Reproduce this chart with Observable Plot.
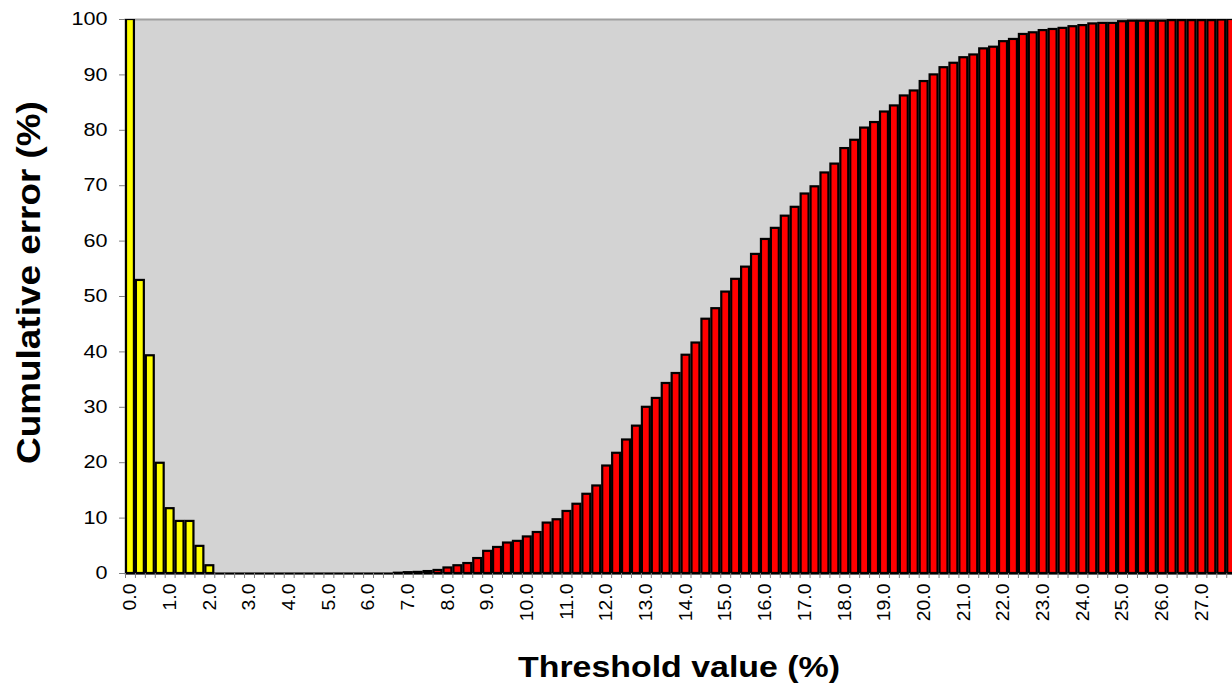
<!DOCTYPE html>
<html><head><meta charset="utf-8">
<script src="https://cdn.jsdelivr.net/npm/d3@7"></script>
<script src="https://cdn.jsdelivr.net/npm/@observablehq/plot@0.6"></script>
<style>
html,body{margin:0;padding:0;background:#fff;}
#chart{width:1232px;height:688px;overflow:hidden;}
</style></head><body><div id="chart"></div>
<script>
// Threshold categories (%) and cumulative error (%) per series
const yellowThresholds = [0, 0.25, 0.5, 0.75, 1.0, 1.25, 1.5, 1.75, 2.0];
const yellowErrors = [100, 52.9, 39.3, 19.9, 11.7, 9.4, 9.4, 4.9, 1.4];

const redThresholds = [
  2.25, 2.5, 2.75, 3.0, 3.25, 3.5, 3.75, 4.0, 4.25, 4.5, 4.75, 5.0, 5.25, 5.5, 5.75, 6.0, 6.25, 6.5, 6.75,
  7.0, 7.25, 7.5, 7.75, 8.0, 8.25, 8.5, 8.75, 9.0, 9.25, 9.5, 9.75, 10.0, 10.25, 10.5, 10.75,
  11.0, 11.25, 11.5, 11.75, 12.0, 12.25, 12.5, 12.75, 13.0, 13.25, 13.5, 13.75, 14.0, 14.25, 14.5, 14.75,
  15.0, 15.25, 15.5, 15.75, 16.0, 16.25, 16.5, 16.75, 17.0, 17.25, 17.5, 17.75, 18.0, 18.25, 18.5, 18.75,
  19.0, 19.25, 19.5, 19.75, 20.0, 20.25, 20.5, 20.75, 21.0, 21.25, 21.5, 21.75, 22.0, 22.25, 22.5, 22.75,
  23.0, 23.25, 23.5, 23.75, 24.0, 24.25, 24.5, 24.75, 25.0, 25.25, 25.5, 25.75, 26.0, 26.25, 26.5, 26.75,
  27.0, 27.25, 27.5, 27.75
];
const redErrors = [
  0, 0, 0, 0, 0, 0, 0, 0, 0, 0, 0, 0, 0, 0, 0, 0, 0, 0, 0.05,
  0.15, 0.2, 0.35, 0.55, 1.0, 1.4, 1.8, 2.7, 4.0, 4.7, 5.5, 5.8, 6.6, 7.4, 9.1, 9.7,
  11.2, 12.5, 14.3, 15.8, 19.4, 21.7, 24.1, 26.6, 30.0, 31.6, 34.3, 36.1, 39.4, 41.6, 45.9, 47.8,
  50.8, 53.1, 55.3, 57.6, 60.3, 62.3, 64.5, 66.1, 68.5, 69.8, 72.3, 73.9, 76.7, 78.2, 80.4, 81.4,
  83.3, 84.4, 86.2, 87.1, 88.8, 90.0, 91.3, 92.1, 93.1, 93.6, 94.7, 95.0, 96.0, 96.4, 97.3, 97.6,
  98.0, 98.2, 98.4, 98.7, 98.9, 99.2, 99.3, 99.3, 99.6, 99.7, 99.7, 99.7, 99.7, 99.8, 99.8, 99.8,
  99.8, 99.8, 99.9, 100
];

const yTicks = [0, 10, 20, 30, 40, 50, 60, 70, 80, 90, 100];
const xTickLabels = [0, 1, 2, 3, 4, 5, 6, 7, 8, 9, 10, 11, 12, 13, 14, 15, 16, 17, 18, 19, 20, 21, 22, 23, 24, 25, 26, 27];

const xTitle = "Threshold value (%)";
const yTitle = "Cumulative error (%)";

// tables built from the arrays
const step = 0.25;
const yellowData = yellowThresholds.map((t, i) => ({t, v: yellowErrors[i]}));
const redData = redThresholds.map((t, i) => ({t, v: redErrors[i]}));
const allThresholds = yellowThresholds.concat(redThresholds);
const boundaries = allThresholds.map(t => t - step / 2);

const barOpts = (fill) => ({
  x1: d => d.t - step / 2,
  x2: d => d.t + step / 2,
  y1: 0,
  y2: "v",
  fill,
  stroke: "black",
  strokeWidth: 2.2,
  insetLeft: 1,
  insetRight: 1,
  clip: true
});

const chart = Plot.plot({
  width: 1232,
  height: 688,
  marginTop: 19,
  marginBottom: 115,
  marginLeft: 125,
  marginRight: 0,
  style: {fontFamily: "'Liberation Sans', Arial, sans-serif", background: "white", color: "black"},
  x: {type: "linear", domain: [-step / 2, 27.77], label: null},
  y: {domain: [0, 100], label: null},
  marks: [
    Plot.frame({fill: "#d3d3d3", stroke: "#a0a0a0", strokeWidth: 2}),
    Plot.rect(yellowData, barOpts("#ffff00")),
    Plot.rect(redData, barOpts("#ff0000")),
    Plot.ruleY([0], {stroke: "black", strokeWidth: 2.2}),
    Plot.axisY({ticks: yTicks, tickSize: 6, tickFormat: () => "", stroke: "#808080", label: null}),
    Plot.axisY({ticks: yTicks, tickSize: 0, tickPadding: 18, fontSize: 18, fill: "black", label: null}),
    Plot.axisX({ticks: boundaries, tickSize: 5, tickFormat: () => "", stroke: "#808080", label: null}),
    Plot.axisX({ticks: xTickLabels, tickSize: 0, tickPadding: 10, tickRotate: -90, tickFormat: d => d.toFixed(1), fontSize: 18, fill: "black", label: null}),
    Plot.text([xTitle], {text: d => d, frameAnchor: "bottom", textAnchor: "middle", lineAnchor: "middle", dy: 94, fontSize: 30, fontWeight: "bold", fill: "black"}),
    Plot.text([yTitle], {text: d => d, frameAnchor: "left", textAnchor: "middle", lineAnchor: "middle", dx: -96, dy: -14, rotate: -90, fontSize: 34, fontWeight: "bold", fill: "black"})
  ]
});

document.getElementById("chart").appendChild(chart);

// the source font is wider than Liberation Sans: stretch along the text direction
function stretchNode(node, sx, sy) {
  const t = node.getAttribute("transform");
  if (t) {
    node.setAttribute("transform", t + ` scale(${sx},${sy})`);
  } else {
    const x = +node.getAttribute("x") || 0, y = +node.getAttribute("y") || 0;
    node.removeAttribute("x"); node.removeAttribute("y");
    node.setAttribute("transform", `translate(${x},${y}) scale(${sx},${sy})`);
  }
}
d3.select(chart).selectAll('g[aria-label="y-axis tick label"] text').each(function () { stretchNode(this, 1.2, 1); });
d3.select(chart).selectAll('g[aria-label="x-axis tick label"] text').each(function () { stretchNode(this, 1.08, 1); });
d3.select(chart).selectAll("text").each(function () {
  if (this.textContent === xTitle) stretchNode(this, 1.13, 1);
  else if (this.textContent === yTitle) stretchNode(this, 1.085, 1);
});
</script></body></html>
